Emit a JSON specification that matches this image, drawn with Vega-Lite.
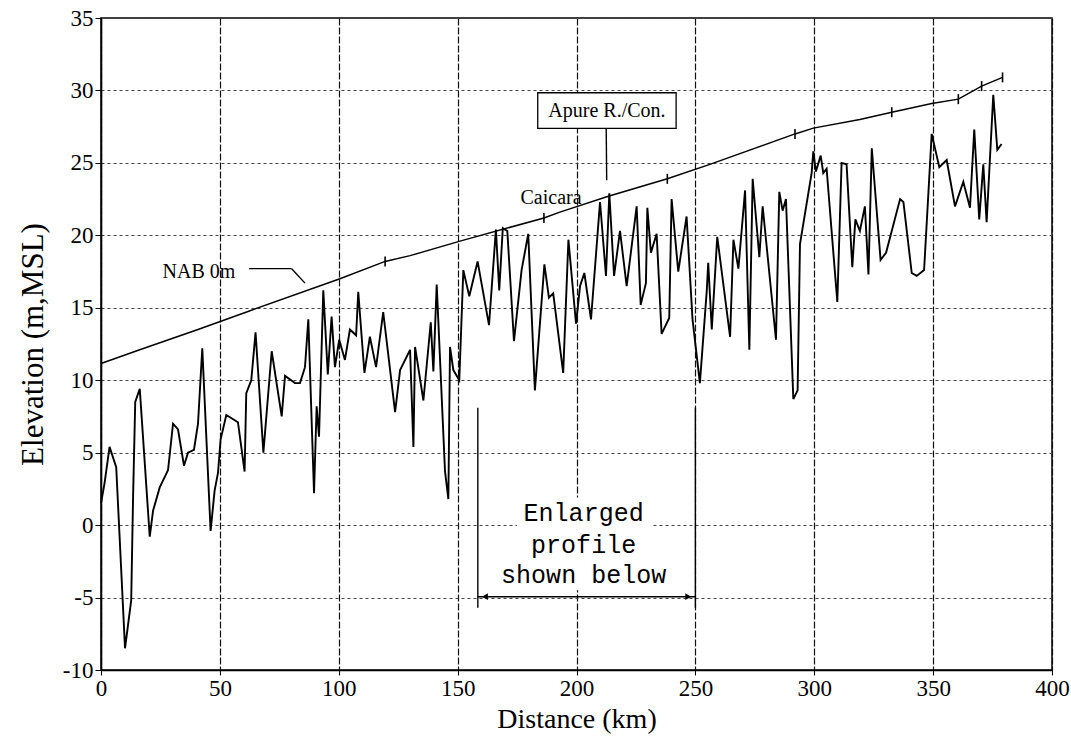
{
  "$schema": "https://vega.github.io/schema/vega-lite/v6.json",
  "width": 951,
  "height": 652,
  "autosize": {"type": "none"},
  "padding": {"left": 101, "top": 18, "right": 19, "bottom": 70},
  "background": "white",
  "config": {
    "view": {"stroke": "black", "strokeWidth": 1.5},
    "axis": {
      "labelFont": "Liberation Serif",
      "titleFont": "Liberation Serif",
      "labelColor": "black",
      "titleColor": "black",
      "titleFontWeight": "normal",
      "tickColor": "black",
      "domainColor": "black",
      "domainWidth": 1.5,
      "labelFlush": false
    }
  },
  "datasets": {
    "profile": [
      {"x": 0, "y": 1.5}, {"x": 1.5, "y": 2.9}, {"x": 3.6, "y": 5.4}, {"x": 6.4, "y": 4.0},
      {"x": 10.1, "y": -8.5}, {"x": 12.7, "y": -5.2}, {"x": 13.5, "y": 2.0}, {"x": 14.4, "y": 8.5},
      {"x": 16.3, "y": 9.4}, {"x": 20.5, "y": -0.8}, {"x": 21.9, "y": 1.0}, {"x": 24.7, "y": 2.6},
      {"x": 28.2, "y": 3.8}, {"x": 30.3, "y": 7.0}, {"x": 32.4, "y": 6.6}, {"x": 34.9, "y": 4.1},
      {"x": 36.6, "y": 5.0}, {"x": 39.1, "y": 5.2}, {"x": 40.8, "y": 7.0}, {"x": 42.6, "y": 12.2},
      {"x": 46.1, "y": -0.4}, {"x": 47.8, "y": 2.4}, {"x": 49.2, "y": 3.6}, {"x": 50.3, "y": 5.9},
      {"x": 52.7, "y": 7.6}, {"x": 57.6, "y": 7.1}, {"x": 60.4, "y": 3.7}, {"x": 61.1, "y": 9.1},
      {"x": 63.2, "y": 10.0}, {"x": 65.0, "y": 13.3}, {"x": 68.3, "y": 5.0}, {"x": 71.8, "y": 12.0},
      {"x": 76.0, "y": 7.5}, {"x": 77.4, "y": 10.3}, {"x": 81.6, "y": 9.8}, {"x": 83.7, "y": 9.8},
      {"x": 85.8, "y": 10.9}, {"x": 87.2, "y": 14.2}, {"x": 89.6, "y": 2.2}, {"x": 90.7, "y": 8.2},
      {"x": 91.7, "y": 6.1}, {"x": 93.5, "y": 16.2}, {"x": 95.4, "y": 10.4}, {"x": 97.0, "y": 14.4},
      {"x": 98.4, "y": 10.9}, {"x": 100.2, "y": 12.8}, {"x": 102.6, "y": 11.4}, {"x": 104.7, "y": 13.5},
      {"x": 107.3, "y": 13.1}, {"x": 108.2, "y": 16.1}, {"x": 110.8, "y": 10.5}, {"x": 113.1, "y": 13.0},
      {"x": 115.7, "y": 10.9}, {"x": 118.7, "y": 14.7}, {"x": 123.7, "y": 7.8}, {"x": 125.8, "y": 10.7},
      {"x": 130.0, "y": 12.1}, {"x": 131.4, "y": 5.4}, {"x": 132.1, "y": 12.3}, {"x": 135.6, "y": 8.6},
      {"x": 138.7, "y": 14.0}, {"x": 139.8, "y": 10.6}, {"x": 141.2, "y": 16.6}, {"x": 144.7, "y": 3.7},
      {"x": 146.1, "y": 1.8}, {"x": 146.8, "y": 12.3}, {"x": 148.2, "y": 10.7}, {"x": 150.7, "y": 10.0},
      {"x": 152.4, "y": 17.6}, {"x": 154.9, "y": 15.8}, {"x": 158.4, "y": 18.2}, {"x": 163.2, "y": 13.8},
      {"x": 166.1, "y": 20.4}, {"x": 167.5, "y": 16.2}, {"x": 169.0, "y": 20.5}, {"x": 170.9, "y": 20.3},
      {"x": 173.7, "y": 12.7}, {"x": 176.9, "y": 17.6}, {"x": 179.7, "y": 20.1}, {"x": 182.5, "y": 9.3},
      {"x": 186.5, "y": 18.0}, {"x": 188.4, "y": 15.7}, {"x": 190.2, "y": 16.0}, {"x": 194.4, "y": 10.5},
      {"x": 196.6, "y": 19.7}, {"x": 199.8, "y": 13.9}, {"x": 201.5, "y": 16.5}, {"x": 203.3, "y": 17.4},
      {"x": 206.1, "y": 14.2}, {"x": 209.9, "y": 22.3}, {"x": 212.4, "y": 17.2}, {"x": 213.8, "y": 22.9},
      {"x": 215.8, "y": 17.2}, {"x": 218.3, "y": 20.3}, {"x": 221.1, "y": 16.5}, {"x": 225.3, "y": 22.0},
      {"x": 227.0, "y": 15.2}, {"x": 229.2, "y": 16.7}, {"x": 229.8, "y": 21.9}, {"x": 231.3, "y": 18.8},
      {"x": 233.7, "y": 20.1}, {"x": 235.8, "y": 13.2}, {"x": 239.0, "y": 14.3}, {"x": 240.0, "y": 22.5},
      {"x": 242.8, "y": 17.5}, {"x": 246.3, "y": 21.3}, {"x": 248.8, "y": 14.2}, {"x": 251.9, "y": 9.8},
      {"x": 254.8, "y": 16.2}, {"x": 255.4, "y": 18.1}, {"x": 256.9, "y": 13.5}, {"x": 259.2, "y": 19.9},
      {"x": 264.6, "y": 13.0}, {"x": 266.0, "y": 19.7}, {"x": 268.1, "y": 17.7}, {"x": 270.9, "y": 23.1},
      {"x": 272.7, "y": 12.1}, {"x": 274.1, "y": 23.9}, {"x": 276.9, "y": 18.5}, {"x": 278.3, "y": 22.0},
      {"x": 283.9, "y": 12.8}, {"x": 285.3, "y": 23.0}, {"x": 286.7, "y": 21.7}, {"x": 288.1, "y": 22.5},
      {"x": 291.2, "y": 8.7}, {"x": 293.0, "y": 9.3}, {"x": 294.0, "y": 19.4}, {"x": 298.9, "y": 24.3},
      {"x": 299.6, "y": 25.8}, {"x": 300.7, "y": 24.4}, {"x": 302.7, "y": 25.5}, {"x": 303.8, "y": 24.3},
      {"x": 305.2, "y": 24.6}, {"x": 309.7, "y": 15.4}, {"x": 311.5, "y": 25.0}, {"x": 313.6, "y": 24.9},
      {"x": 316.0, "y": 17.8}, {"x": 317.3, "y": 21.1}, {"x": 319.2, "y": 20.3}, {"x": 321.3, "y": 22.0},
      {"x": 322.8, "y": 17.3}, {"x": 324.2, "y": 26.0}, {"x": 327.9, "y": 18.3}, {"x": 330.2, "y": 18.8},
      {"x": 336.1, "y": 22.5}, {"x": 337.5, "y": 22.3}, {"x": 341.0, "y": 17.4}, {"x": 343.1, "y": 17.2},
      {"x": 346.2, "y": 17.6}, {"x": 349.4, "y": 27.0}, {"x": 352.6, "y": 24.7}, {"x": 355.7, "y": 25.2},
      {"x": 359.2, "y": 22.0}, {"x": 362.7, "y": 23.7}, {"x": 365.5, "y": 21.9}, {"x": 367.3, "y": 27.3},
      {"x": 369.4, "y": 21.1}, {"x": 371.1, "y": 24.9}, {"x": 372.5, "y": 20.9}, {"x": 375.3, "y": 29.7},
      {"x": 377.0, "y": 25.9}, {"x": 378.8, "y": 26.3}
    ],
    "nab": [
      {"x": 0, "y": 11.15}, {"x": 16.3, "y": 12.1}, {"x": 40.8, "y": 13.5}, {"x": 62.7, "y": 14.8},
      {"x": 100.5, "y": 17.0}, {"x": 119.5, "y": 18.2}, {"x": 130, "y": 18.6}, {"x": 151, "y": 19.6},
      {"x": 186.3, "y": 21.2}, {"x": 193, "y": 21.6}, {"x": 213.4, "y": 22.7}, {"x": 238.2, "y": 23.9},
      {"x": 256.1, "y": 24.9}, {"x": 291.9, "y": 27.0}, {"x": 299.6, "y": 27.4}, {"x": 319.2, "y": 28.0},
      {"x": 332.6, "y": 28.5}, {"x": 349.4, "y": 29.1}, {"x": 360.6, "y": 29.4}, {"x": 370.4, "y": 30.3},
      {"x": 379.2, "y": 30.9}
    ],
    "nabTicks": [
      {"x": 119.5, "y": 18.2}, {"x": 186.3, "y": 21.2}, {"x": 238.2, "y": 23.9}, {"x": 291.9, "y": 27.0},
      {"x": 332.6, "y": 28.5}, {"x": 360.6, "y": 29.4}, {"x": 370.4, "y": 30.3}, {"x": 379.2, "y": 30.9}
    ],
    "leaders": [
      {"x": 62.3, "y": 17.7, "x2": 80.2, "y2": 17.7},
      {"x": 80.2, "y": 17.7, "x2": 85.8, "y2": 16.7},
      {"x": 212.5, "y": 27.38, "x2": 212.7, "y2": 23.8},
      {"x": 158.5, "y": 8.1, "x2": 158.5, "y2": -5.7},
      {"x": 250, "y": 8.1, "x2": 250, "y2": -5.7},
      {"x": 158.5, "y": -4.94, "x2": 250, "y2": -4.94}
    ],
    "arrows": [
      {"x": 161.5, "y": -4.94, "shape": "triangle-left"},
      {"x": 247.0, "y": -4.94, "shape": "triangle-right"}
    ],
    "labels": [
      {"x": 41.2, "y": 17.5, "text": "NAB 0m"},
      {"x": 189.3, "y": 22.6, "text": "Caicara"},
      {"x": 212.8, "y": 28.6, "text": "Apure R./Con."}
    ],
    "note": [
      {"x": 203, "y": 0.83, "text": "Enlarged"},
      {"x": 203, "y": -1.37, "text": "profile"},
      {"x": 203, "y": -3.44, "text": "shown below"}
    ],
    "noteBg": [{"x": 175, "x2": 232, "y": -4.5, "y2": 1.9}],
    "box": [{"x": 183.7, "x2": 241.9, "y": 27.38, "y2": 29.84}]
  },
  "encoding": {
    "x": {
      "field": "x", "type": "quantitative",
      "scale": {"domain": [0, 400], "nice": false, "zero": false},
      "axis": {
        "title": "Distance (km)",
        "values": [0, 50, 100, 150, 200, 250, 300, 350, 400],
        "labelFontSize": 23, "titleFontSize": 28,
        "tickSize": 5, "labelPadding": 2, "titlePadding": 5,
        "grid": true, "gridColor": "#111", "gridDash": [7, 2], "gridWidth": 1.2
      }
    },
    "y": {
      "field": "y", "type": "quantitative",
      "scale": {"domain": [-10, 35], "nice": false, "zero": false},
      "axis": {
        "title": "Elevation (m,MSL)",
        "values": [-10, -5, 0, 5, 10, 15, 20, 25, 30, 35],
        "labelExpr": "datum.value + ''",
        "labelFontSize": 23, "titleFontSize": 31,
        "titleX": -68, "titleY": 326, "titleBaseline": "middle", "titleAlign": "center", "titleAngle": -90,
        "tickSize": 6, "labelPadding": 2,
        "grid": true, "gridColor": "#444", "gridDash": [3, 3], "gridWidth": 1
      }
    }
  },
  "layer": [
    {
      "data": {"name": "noteBg"},
      "mark": {"type": "rect", "fill": "white", "strokeWidth": 0},
      "encoding": {"x2": {"field": "x2"}, "y2": {"field": "y2"}}
    },
    {
      "data": {"name": "box"},
      "mark": {"type": "rect", "fill": "white", "stroke": "black", "strokeWidth": 1.3},
      "encoding": {"x2": {"field": "x2"}, "y2": {"field": "y2"}}
    },
    {
      "data": {"name": "nab"},
      "mark": {"type": "line", "color": "black", "strokeWidth": 1.5},
      "encoding": {}
    },
    {
      "data": {"name": "profile"},
      "mark": {"type": "line", "color": "black", "strokeWidth": 1.9},
      "encoding": {}
    },
    {
      "data": {"name": "nabTicks"},
      "mark": {"type": "tick", "orient": "vertical", "color": "black", "size": 10, "thickness": 1.6, "opacity": 1},
      "encoding": {}
    },
    {
      "data": {"name": "leaders"},
      "mark": {"type": "rule", "color": "black", "strokeWidth": 1.4},
      "encoding": {"x2": {"field": "x2"}, "y2": {"field": "y2"}}
    },
    {
      "data": {"name": "arrows"},
      "mark": {"type": "point", "filled": true, "color": "black", "size": 45, "opacity": 1},
      "encoding": {"shape": {"field": "shape", "type": "nominal", "scale": null, "legend": null}}
    },
    {
      "data": {"name": "labels"},
      "mark": {"type": "text", "font": "Liberation Serif", "fontSize": 20, "color": "black", "align": "center", "baseline": "middle"},
      "encoding": {"text": {"field": "text"}}
    },
    {
      "data": {"name": "note"},
      "mark": {"type": "text", "font": "Liberation Mono", "fontSize": 25, "color": "black", "align": "center", "baseline": "middle"},
      "encoding": {"text": {"field": "text"}}
    }
  ]
}
